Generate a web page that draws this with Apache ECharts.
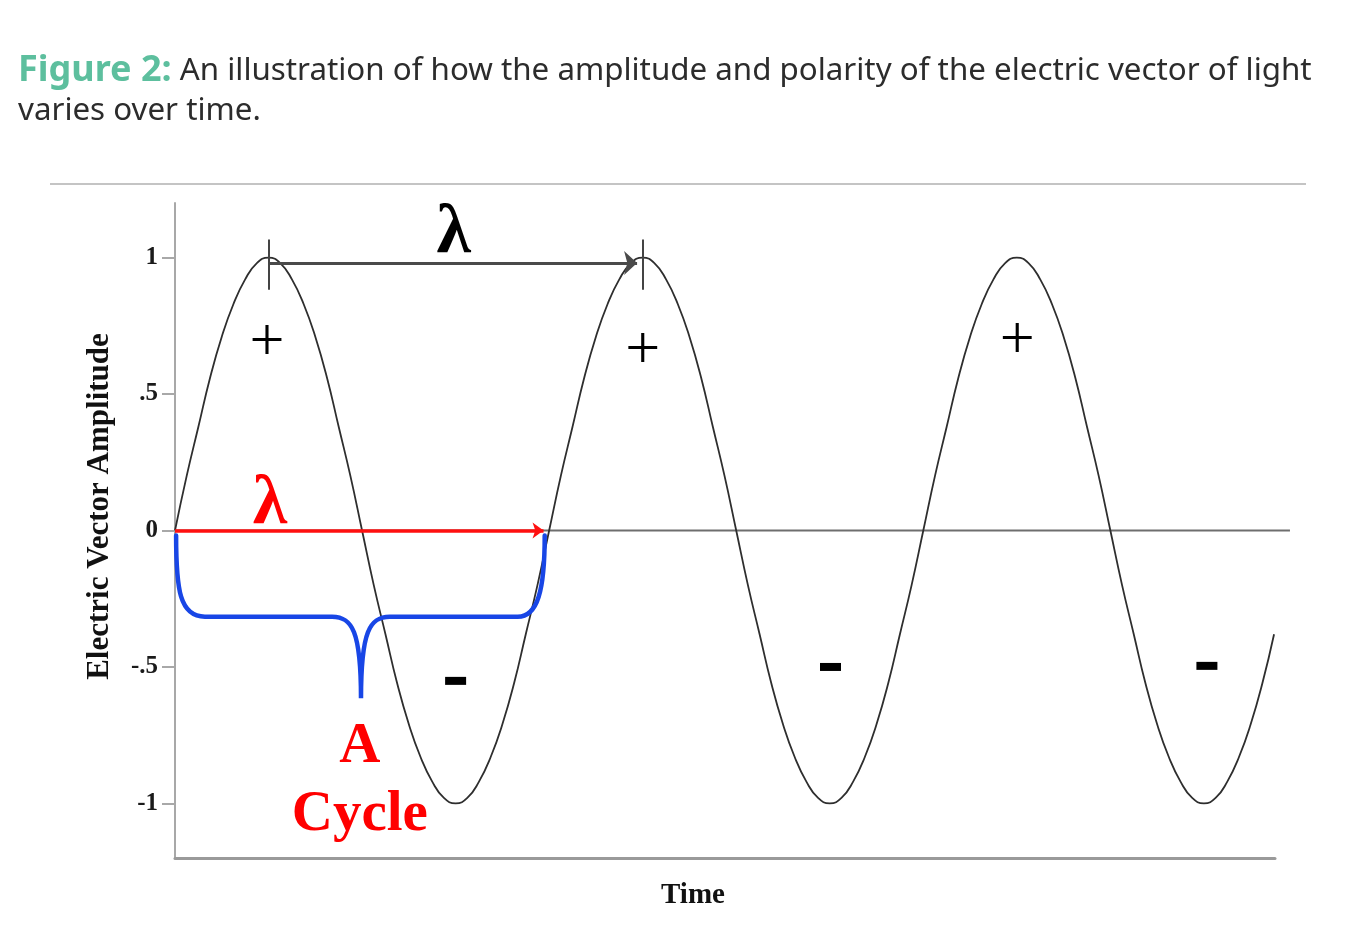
<!DOCTYPE html>
<html>
<head>
<meta charset="utf-8">
<title>Figure 2</title>
<script src="https://cdn.jsdelivr.net/npm/echarts@6/dist/echarts.min.js"></script>
<style>
    html, body { margin: 0; padding: 0; background: #fff; }
    #chart { width: 1361px; height: 947px; }
</style>
</head>
<body>
<div id="chart"></div>
<script>
// 时间（单位：周期），每 1/32 周期读一个点
let time = [
    0, 0.03125, 0.0625, 0.09375, 0.125, 0.15625, 0.1875, 0.21875, 0.25, 0.28125, 0.3125, 0.34375, 0.375, 0.40625, 0.4375, 0.46875,
    0.5, 0.53125, 0.5625, 0.59375, 0.625, 0.65625, 0.6875, 0.71875, 0.75, 0.78125, 0.8125, 0.84375, 0.875, 0.90625, 0.9375, 0.96875,
    1, 1.03125, 1.0625, 1.09375, 1.125, 1.15625, 1.1875, 1.21875, 1.25, 1.28125, 1.3125, 1.34375, 1.375, 1.40625, 1.4375, 1.46875,
    1.5, 1.53125, 1.5625, 1.59375, 1.625, 1.65625, 1.6875, 1.71875, 1.75, 1.78125, 1.8125, 1.84375, 1.875, 1.90625, 1.9375, 1.96875,
    2, 2.03125, 2.0625, 2.09375, 2.125, 2.15625, 2.1875, 2.21875, 2.25, 2.28125, 2.3125, 2.34375, 2.375, 2.40625, 2.4375, 2.46875,
    2.5, 2.53125, 2.5625, 2.59375, 2.625, 2.65625, 2.6875, 2.71875, 2.75, 2.78125, 2.8125, 2.84375, 2.875, 2.90625, 2.9375
];
// 电矢量振幅
let amplitude = [
    0, 0.20, 0.38, 0.56, 0.71, 0.83, 0.92, 0.98, 1, 0.98, 0.92, 0.83, 0.71, 0.56, 0.38, 0.20,
    0, -0.20, -0.38, -0.56, -0.71, -0.83, -0.92, -0.98, -1, -0.98, -0.92, -0.83, -0.71, -0.56, -0.38, -0.20,
    0, 0.20, 0.38, 0.56, 0.71, 0.83, 0.92, 0.98, 1, 0.98, 0.92, 0.83, 0.71, 0.56, 0.38, 0.20,
    0, -0.20, -0.38, -0.56, -0.71, -0.83, -0.92, -0.98, -1, -0.98, -0.92, -0.83, -0.71, -0.56, -0.38, -0.20,
    0, 0.20, 0.38, 0.56, 0.71, 0.83, 0.92, 0.98, 1, 0.98, 0.92, 0.83, 0.71, 0.56, 0.38, 0.20,
    0, -0.20, -0.38, -0.56, -0.71, -0.83, -0.92, -0.98, -1, -0.98, -0.92, -0.83, -0.71, -0.56, -0.38
];
let yTicks = [-1, -0.5, 0, 0.5, 1];
let yTickLabels = ['-1', '-.5', '0', '.5', '1'];

// 标注位置（数据坐标）
let plusMarks = [[0.246, 0.685], [1.25, 0.655], [2.251, 0.69]];
let minusMarks = [[0.75, -0.551], [1.752, -0.50], [2.758, -0.496]];
let blackLambda = [0.745, 1.085];
let redLambda = [0.254, 0.095];
let cycleText = [[0.494, -0.795, 'A'], [0.494, -1.045, 'Cycle']];
let zeroLine = [[0, 0], [2.98, 0]];
let redArrow = [[0, 0], [0.985, 0]];
let wavelengthArrow = [[0.25, 0.98], [1.235, 0.98]];
let peakTicks = [[0.25, 1.066, 0.882], [1.25, 1.066, 0.882]];
// 花括号：M / C / L 路径点
let bracePath = [
    ['M', 0.003, -0.018],
    ['C', 0.003, -0.22, 0.013, -0.316, 0.08, -0.316],
    ['L', 0.42, -0.316],
    ['C', 0.473, -0.316, 0.497, -0.368, 0.497, -0.615],
    ['C', 0.497, -0.368, 0.521, -0.316, 0.574, -0.316],
    ['L', 0.916, -0.316],
    ['C', 0.969, -0.316, 0.988, -0.22, 0.988, -0.018]
];

let serif = '"Liberation Serif", "Times New Roman", serif';

let myChart = echarts.init(document.getElementById('chart'));

let markLineData = [
    [{ coord: wavelengthArrow[0], lineStyle: { color: '#4a4a4a', width: 3, type: 'solid' } },
     { coord: wavelengthArrow[1], symbol: 'arrow', symbolSize: [18, 13] }],
    [{ coord: redArrow[0], lineStyle: { color: '#ff1010', width: 3.5, type: 'solid' } },
     { coord: redArrow[1], symbol: 'arrow', symbolSize: [12, 11] }]
];
peakTicks.forEach(function (t) {
    markLineData.push([
        { coord: [t[0], t[1]], lineStyle: { color: '#444', width: 2, type: 'solid' } },
        { coord: [t[0], t[2]] }
    ]);
});

// 纯文字标注用的散点：不显示点本身
let textOnly = { symbolSize: 0, itemStyle: { color: 'transparent', opacity: 1 } };

let option = {
    animation: false,
    title: {
        left: 13,
        top: 46,
        text: '{fig|Figure 2:} An illustration of how the amplitude and polarity of the electric vector of light\nvaries over time.',
        textStyle: {
            fontFamily: '"Noto Sans", sans-serif',
            fontSize: 31.3,
            fontWeight: 'normal',
            color: '#2c2c2c',
            lineHeight: 40,
            rich: {
                fig: {
                    fontFamily: '"Noto Sans", sans-serif',
                    fontSize: 36,
                    fontWeight: 'bold',
                    color: '#5dbf9e',
                    lineHeight: 40
                }
            }
        }
    },
    graphic: [{
        type: 'line',
        shape: { x1: 50, y1: 184, x2: 1306, y2: 184 },
        style: { stroke: '#c4c4c4', lineWidth: 2 }
    }],
    grid: {
        left: 175,
        right: 86,
        top: 203,
        bottom: 89,
        containLabel: false,
        outerBoundsMode: 'none'
    },
    xAxis: {
        type: 'value',
        min: 0,
        max: 2.94,
        name: 'Time',
        nameLocation: 'middle',
        nameGap: 23,
        nameTextStyle: {
            fontFamily: serif, fontSize: 29, fontWeight: 'bold', color: '#111',
            padding: [0, 64, 0, 0]
        },
        axisLine: { onZero: false, lineStyle: { color: '#9a9a9a', width: 3 } },
        axisTick: { show: false },
        axisLabel: { show: false },
        splitLine: { show: false }
    },
    yAxis: {
        type: 'value',
        min: -1.2,
        max: 1.2,
        name: 'Electric Vector Amplitude',
        nameLocation: 'middle',
        nameGap: 60,
        nameTextStyle: {
            fontFamily: serif, fontSize: 31, fontWeight: 'bold', color: '#111',
            padding: [0, 0, 0, 48]
        },
        axisLine: { show: true, onZero: false, lineStyle: { color: '#a8a8a8', width: 2 } },
        axisTick: {
            show: true,
            customValues: yTicks,
            length: 13,
            lineStyle: { color: '#a8a8a8', width: 2 }
        },
        axisLabel: {
            customValues: yTicks,
            margin: 17,
            fontFamily: serif,
            fontSize: 25,
            fontWeight: 'bold',
            color: '#1a1a1a',
            formatter: function (v) {
                return yTickLabels[yTicks.indexOf(v)];
            }
        },
        splitLine: { show: false }
    },
    series: [
        {
            // 零线比 x 轴略长，用 custom 画，不受网格裁剪
            name: 'zero line',
            type: 'custom',
            silent: true,
            clip: false,
            z: 2,
            data: [[0, 0]],
            renderItem: function (params, api) {
                let a = api.coord(zeroLine[0]);
                let b = api.coord(zeroLine[1]);
                return {
                    type: 'line',
                    shape: { x1: a[0], y1: a[1], x2: b[0], y2: b[1] },
                    style: { stroke: '#6e6e6e', lineWidth: 2 }
                };
            }
        },
        {
            name: 'Electric vector',
            type: 'line',
            data: time.map(function (t, i) { return [t, amplitude[i]]; }),
            smooth: true,
            showSymbol: false,
            clip: false,
            lineStyle: { color: '#2e2e2e', width: 1.8 },
            z: 3,
            markLine: {
                silent: true,
                symbol: ['none', 'none'],
                label: { show: false },
                data: markLineData
            }
        },
        {
            name: 'brace',
            type: 'custom',
            silent: true,
            z: 4,
            data: [[0, 0]],
            renderItem: function (params, api) {
                let d = '';
                bracePath.forEach(function (seg) {
                    d += seg[0];
                    for (let k = 1; k < seg.length; k += 2) {
                        let p = api.coord([seg[k], seg[k + 1]]);
                        d += ' ' + p[0].toFixed(1) + ' ' + p[1].toFixed(1);
                    }
                    d += ' ';
                });
                return {
                    type: 'path',
                    shape: { pathData: d },
                    style: { stroke: '#1846e6', lineWidth: 4.5, fill: 'none', lineCap: 'round' }
                };
            }
        },
        Object.assign({
            name: 'plus',
            type: 'scatter',
            silent: true,
            data: plusMarks,
            label: {
                show: true,
                position: 'inside',
                formatter: '+',
                fontFamily: serif,
                fontSize: 62,
                color: '#000'
            }
        }, textOnly),
        {
            name: 'minus',
            type: 'scatter',
            silent: true,
            symbol: 'rect',
            symbolSize: [21, 8],
            itemStyle: { color: '#000', opacity: 1 },
            data: minusMarks
        },
        Object.assign({
            name: 'lambda',
            type: 'scatter',
            silent: true,
            data: [
                { value: blackLambda, label: { color: '#000' } },
                { value: redLambda, label: { color: '#ff0000' } }
            ],
            label: {
                show: true,
                position: 'inside',
                formatter: 'λ',
                fontFamily: serif,
                fontWeight: 'bold',
                fontSize: 70
            }
        }, textOnly),
        Object.assign({
            name: 'cycle',
            type: 'scatter',
            silent: true,
            data: cycleText,
            label: {
                show: true,
                position: 'inside',
                formatter: function (p) { return p.value[2]; },
                fontFamily: serif,
                fontWeight: 'bold',
                fontSize: 57,
                color: '#ff0000'
            }
        }, textOnly)
    ]
};

myChart.setOption(option);
</script>
</body>
</html>
